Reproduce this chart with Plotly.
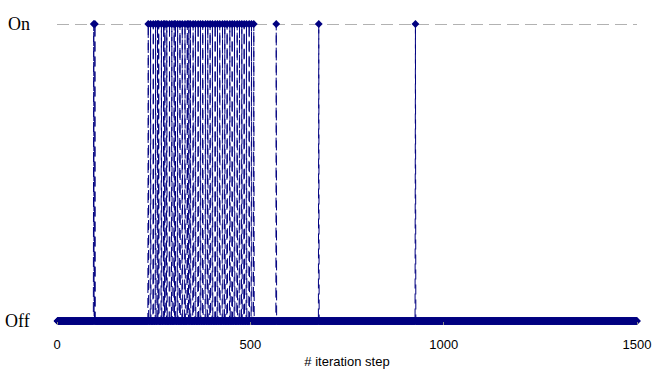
import plotly.graph_objects as go

# iteration steps at which the state is "On"
on_steps = [95, 98,
            236, 242, 249, 255, 260, 263, 270, 276, 279, 284, 291, 297, 303, 306,
            312, 318, 324, 331, 337, 341, 345, 352, 358, 365, 371, 377, 384, 390,
            396, 402, 409, 415, 421, 428, 434, 440, 447, 453, 459, 466, 472, 478,
            484, 490, 497, 503, 509,
            567, 677, 927]
n_steps = 1500
steps = list(range(1, n_steps + 1))
on_set = set(on_steps)
state = [1 if s in on_set else 0 for s in steps]

x_ticks = [0, 500, 1000, 1500]
y_ticks = [0, 1]
y_labels = ["Off", "On"]

navy = "#000080"

fig = go.Figure()
fig.add_trace(go.Scatter(
    x=steps, y=state, mode="lines+markers",
    line=dict(color=navy, width=1, dash="10px,5px", simplify=False),
    marker=dict(symbol="diamond", size=6, color=navy),
    cliponaxis=False, showlegend=False, hoverinfo="skip",
))

# dashed reference line at the "On" level
fig.add_shape(type="line", xref="x", yref="y", x0=x_ticks[0], x1=x_ticks[-1],
              y0=y_ticks[1], y1=y_ticks[1], layer="below",
              line=dict(color="#666666", width=1, dash="12px,6px"))

# y labels (Off / On) drawn at their levels
label_x = [-0.0931, -0.0879]
for yv, txt, lx in zip(y_ticks, y_labels, label_x):
    fig.add_annotation(x=lx, xref="paper", y=yv, yref="y", text=txt,
                       showarrow=False, xanchor="left", yanchor="middle",
                       font=dict(family="Liberation Serif, Times New Roman", size=18, color="black"))

fig.update_layout(
    width=659, height=369,
    margin=dict(l=57, r=22, t=24, b=48, autoexpand=False),
    paper_bgcolor="white", plot_bgcolor="white",
    xaxis=dict(range=[0, 1500], tickvals=x_ticks, showgrid=False, zeroline=False,
               automargin=False,
               ticks="outside", ticklen=3, tickcolor="#888", ticklabelstandoff=8,
               tickfont=dict(family="Liberation Sans, Arial", size=13, color="black"),
               title=dict(text="# iteration step", standoff=8,
                          font=dict(family="Liberation Sans, Arial", size=13, color="black"))),
    yaxis=dict(range=[0, 1], tickvals=y_ticks, showticklabels=False, automargin=False,
               showgrid=False, zeroline=False, ticks=""),
)

fig.write_html("out.html", config={"displayModeBar": False},
               post_script="document.body.style.margin='0px';")
